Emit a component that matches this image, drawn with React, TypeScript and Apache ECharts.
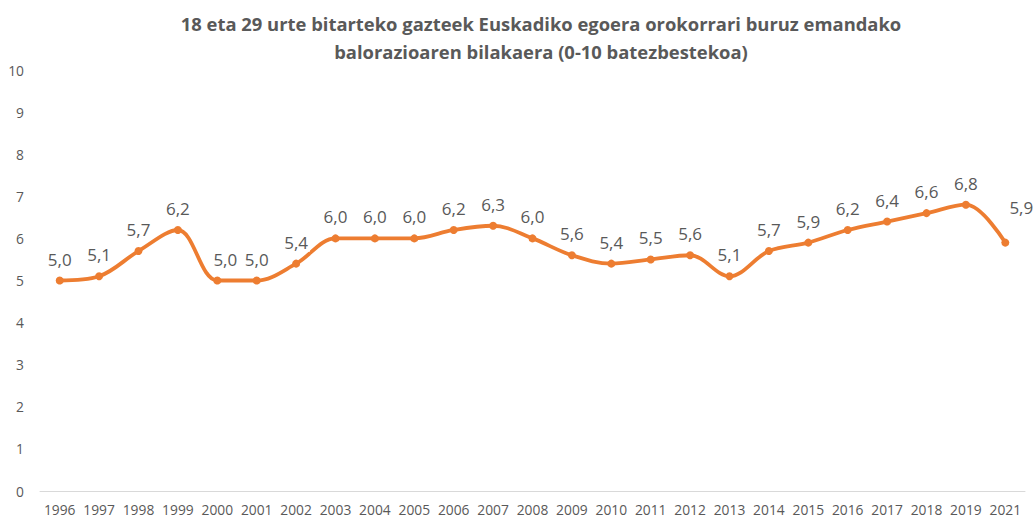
import React, { useEffect, useRef } from "react";
import * as echarts from "echarts";

const TITLE = "18 eta 29 urte bitarteko gazteek Euskadiko egoera orokorrari buruz emandako\nbalorazioaren bilakaera (0-10 batezbestekoa)";
const years = ["1996","1997","1998","1999","2000","2001","2002","2003","2004","2005","2006","2007","2008","2009","2010","2011","2012","2013","2014","2015","2016","2017","2018","2019","2021"];
const values = [5.0,5.1,5.7,6.2,5.0,5.0,5.4,6.0,6.0,6.0,6.2,6.3,6.0,5.6,5.4,5.5,5.6,5.1,5.7,5.9,6.2,6.4,6.6,6.8,5.9];

export default function App() {
  const ref = useRef<HTMLDivElement>(null);
  useEffect(() => {
    if (!ref.current) return;
    const chart = echarts.init(ref.current, null, { renderer: "svg" });
    const data = values.map((v, i) =>
      i === values.length - 1
        ? { value: v, label: { position: "top", offset: [16, -14] } }
        : i === 4
        ? { value: v, label: { position: "top", offset: [8, 0] } }
        : v
    );
    chart.setOption({
      animation: false,
      backgroundColor: "#ffffff",
      title: {
        text: TITLE,
        left: 536,
        textAlign: "center",
        top: 4,
        textStyle: {
          fontFamily: "Open Sans",
          fontWeight: "bold",
          fontSize: 18.4,
          color: "#595959",
          lineHeight: 28,
        },
      },
      grid: { left: 40, right: 8, top: 70, bottom: 26, containLabel: false },
      xAxis: {
        type: "category",
        data: years,
        boundaryGap: true,
        axisLine: { show: true, lineStyle: { color: "#D9D9D9", width: 1 } },
        axisTick: { show: false },
        axisLabel: { color: "#595959", fontSize: 13.8, fontFamily: "Open Sans", margin: 11, interval: 0 },
      },
      yAxis: {
        type: "value",
        min: 0,
        max: 10,
        interval: 1,
        splitLine: { show: false },
        axisLine: { show: false },
        axisTick: { show: false },
        axisLabel: { color: "#595959", fontSize: 13.8, fontFamily: "Open Sans", margin: 16 },
      },
      series: [
        {
          type: "line",
          data,
          smooth: 0.35,
          symbol: "circle",
          symbolSize: 8,
          lineStyle: { color: "#ED7D31", width: 3.8 },
          itemStyle: { color: "#ED7D31" },
          label: {
            show: true,
            position: "top",
            distance: 8,
            color: "#595959",
            fontSize: 17,
            fontFamily: "Open Sans",
            backgroundColor: "#ffffff",
            padding: [1, 2],
            formatter: (p: any) => Number(p.value).toFixed(1).replace(".", ","),
          },
        },
      ],
    });
    return () => chart.dispose();
  }, []);
  return <div ref={ref} style={{ width: 1033, height: 517, position: "absolute", left: 0, top: 0 }} />;
}
